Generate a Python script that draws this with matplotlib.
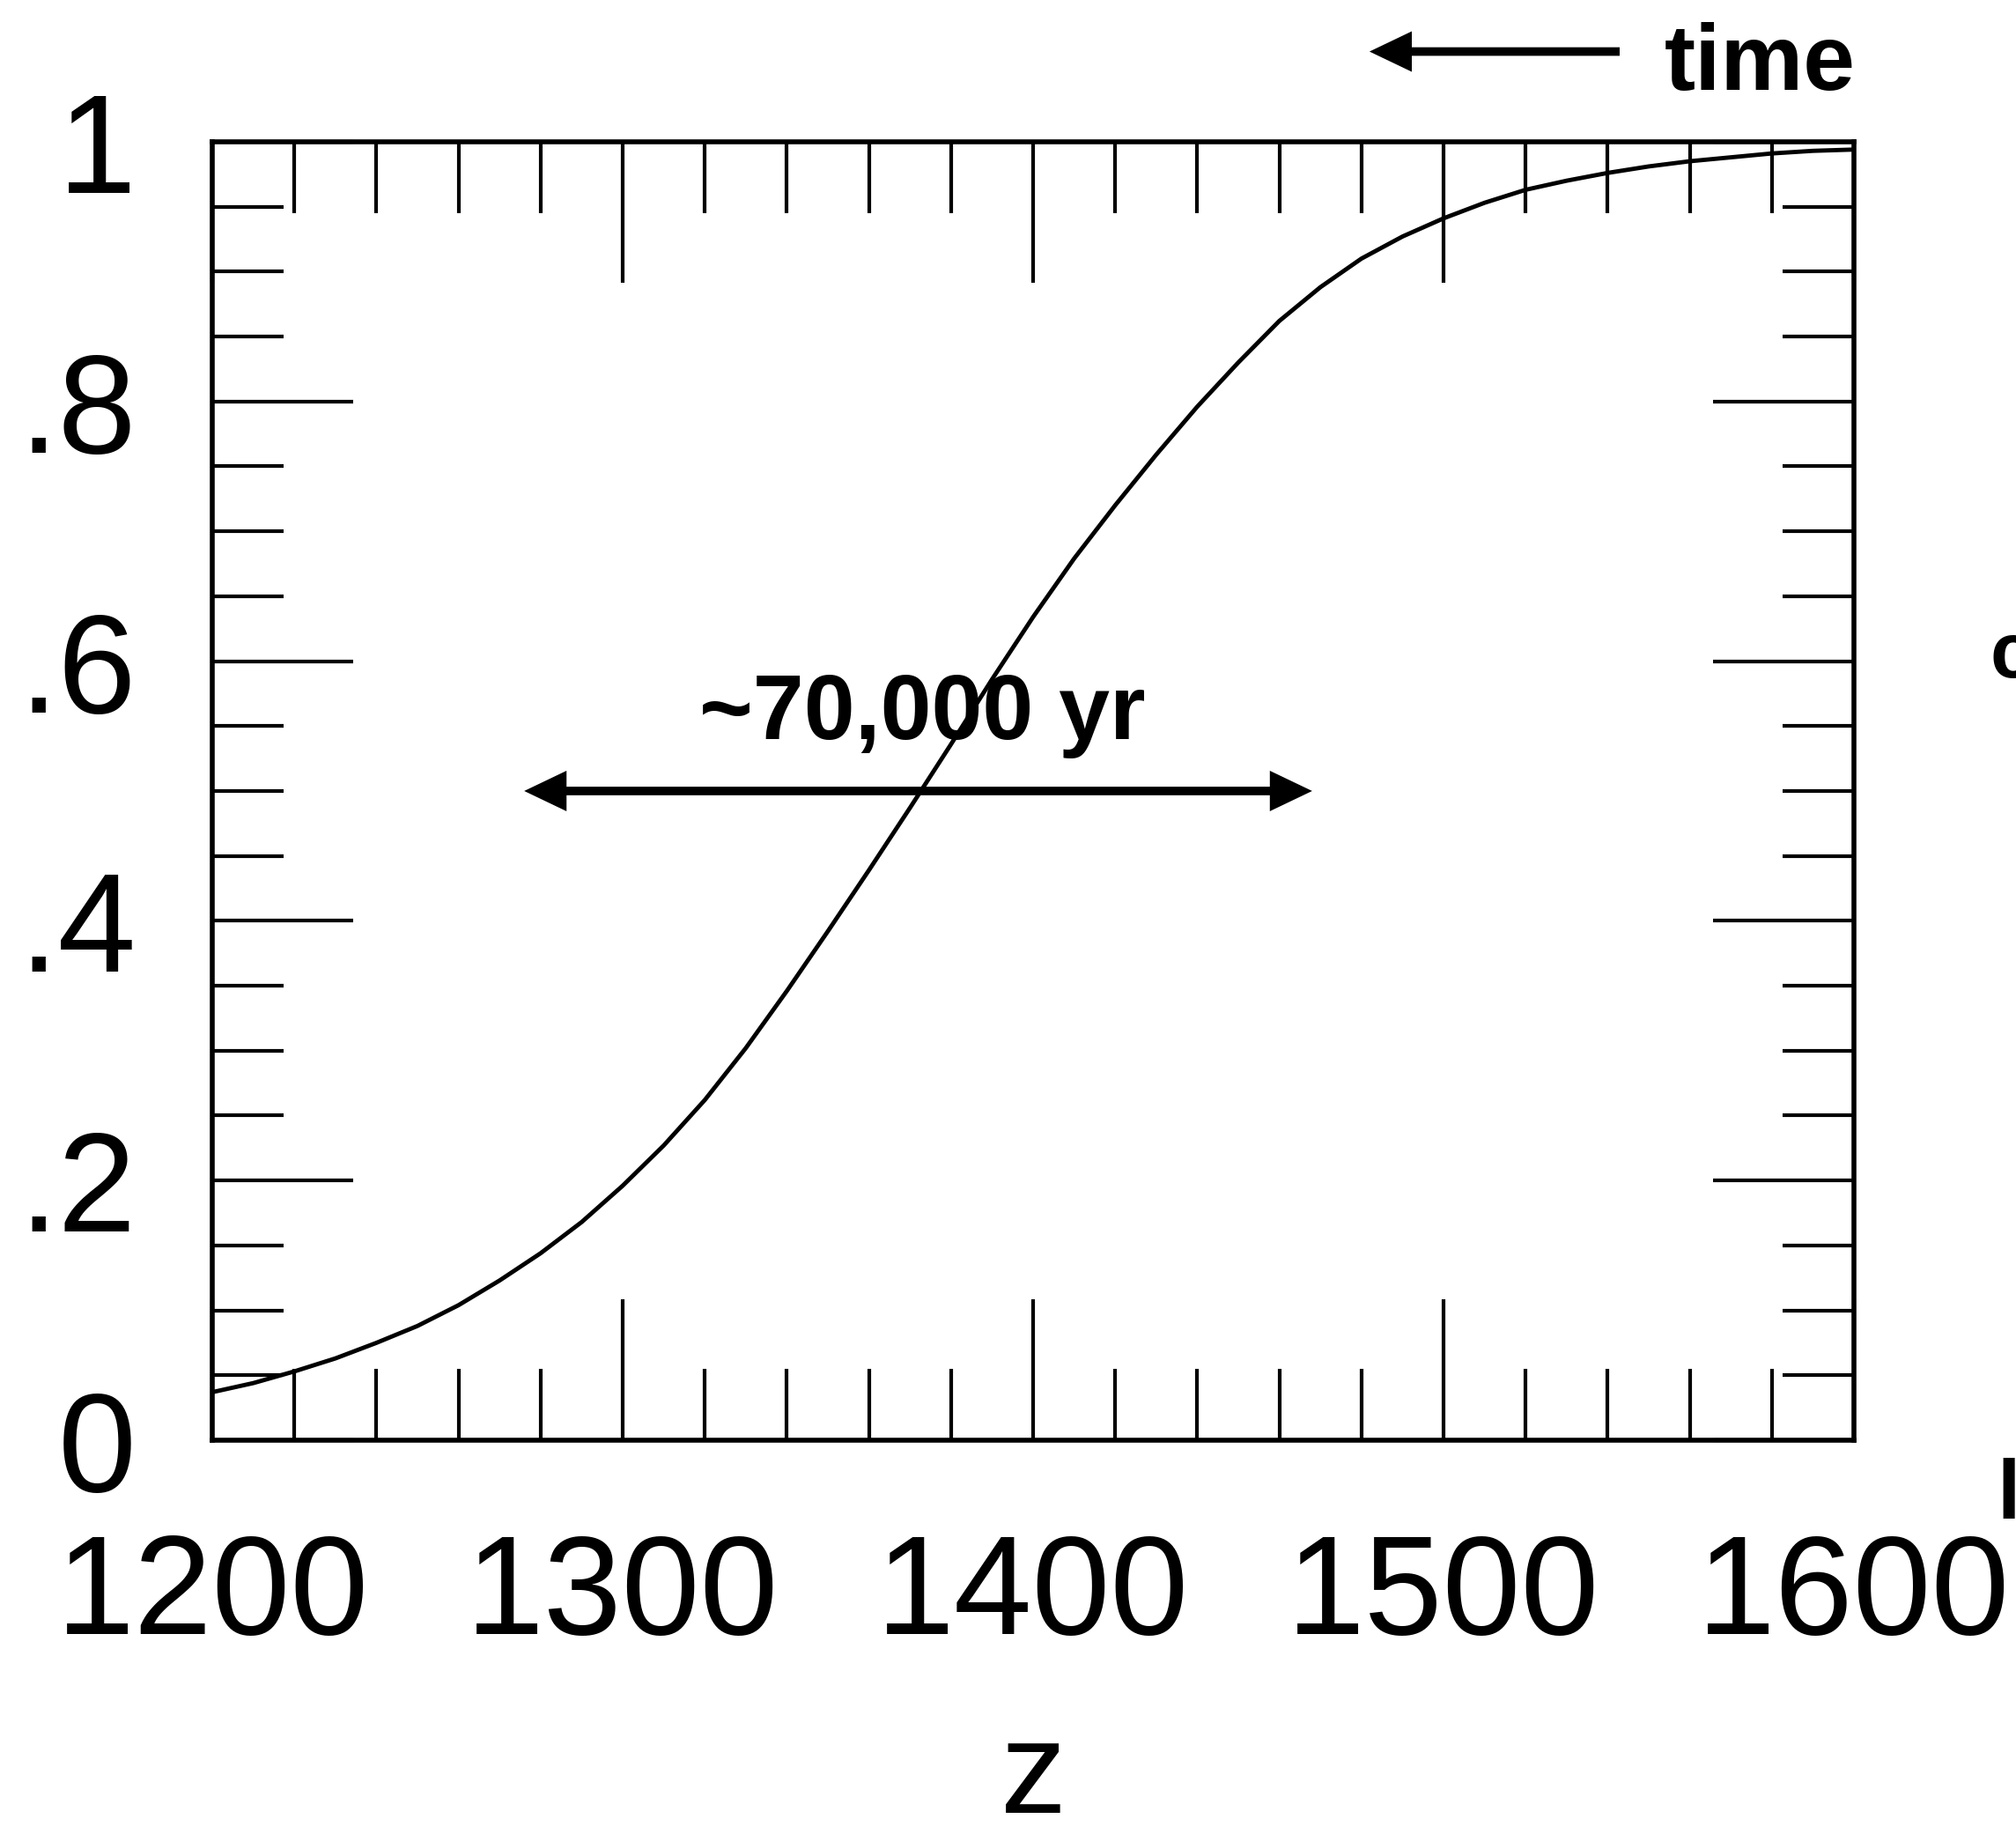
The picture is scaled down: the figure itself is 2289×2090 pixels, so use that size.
import matplotlib
matplotlib.use("Agg")
import matplotlib.pyplot as plt
from matplotlib.ticker import MultipleLocator

plt.rcParams['font.family'] = ['Liberation Sans', 'DejaVu Sans']

# values
z = [1200, 1210, 1220, 1230, 1240, 1250, 1260, 1270, 1280, 1290,
     1300, 1310, 1320, 1330, 1340, 1350, 1360, 1370, 1380, 1390,
     1400, 1410, 1420, 1430, 1440, 1450, 1460, 1470, 1480, 1490,
     1500, 1510, 1520, 1530, 1540, 1550, 1560, 1570, 1580, 1590, 1600]
frac = [0.037, 0.044, 0.053, 0.063, 0.075, 0.088, 0.104, 0.123, 0.144, 0.168,
        0.196, 0.227, 0.262, 0.302, 0.346, 0.392, 0.439, 0.487, 0.536, 0.586,
        0.634, 0.679, 0.720, 0.759, 0.796, 0.830, 0.862, 0.888, 0.910, 0.927,
        0.941, 0.953, 0.963, 0.970, 0.976, 0.981, 0.985, 0.988, 0.991, 0.993, 0.994]

xticks = [1200, 1300, 1400, 1500, 1600]
yticks = [0, 0.2, 0.4, 0.6, 0.8, 1.0]
ytick_labels = ['0', '.2', '.4', '.6', '.8', '1']

span_start, span_end, span_level = 1276, 1468, 0.5
span_label = '~70,000 yr'

fig = plt.figure(figsize=(22.89, 20.90), dpi=100)
ax = fig.add_axes([0.1053, 0.2177, 0.8143, 0.7053])

ax.plot(z, frac, color='black', lw=3.5)

ax.set_xlim(1200, 1600)
ax.set_ylim(0, 1)
ax.set_xticks(xticks)
ax.set_yticks(yticks)
ax.set_yticklabels(ytick_labels)
ax.xaxis.set_minor_locator(MultipleLocator(20))
ax.yaxis.set_minor_locator(MultipleLocator(0.05))
ax.tick_params(which='both', direction='in', top=True, right=True, width=3,
               labelsize=115)
ax.tick_params(which='major', length=115)
ax.tick_params(which='minor', length=58)
ax.tick_params(axis='x', pad=75)
ax.tick_params(axis='y', pad=62)
for s in ax.spines.values():
    s.set_linewidth(4)

ax.set_xlabel('z', fontsize=108)
ax.xaxis.label.set_verticalalignment('baseline')
ax.xaxis.set_label_coords(0.5, -0.287)

arrow = dict(mutation_scale=1, lw=7, color='black', shrinkA=0, shrinkB=0,
             joinstyle='miter', capstyle='butt')

# double arrow with the span label
ax.annotate('', xy=(span_start, span_level), xytext=(span_end, span_level),
            arrowprops=dict(arrowstyle='<|-|>,head_length=23,head_width=11', **arrow))
ax.text(1373, 0.54, span_label, ha='center', va='baseline', fontsize=75,
        weight='bold')

# time arrow above the plot
ax.annotate('', xy=(0.6793, 0.972), xytext=(0.8034, 0.972),
            xycoords='figure fraction', textcoords='figure fraction',
            annotation_clip=False,
            arrowprops=dict(arrowstyle='-|>,head_length=23,head_width=11', **arrow))
fig.text(0.8257, 0.951, 'time', fontsize=76, weight='bold', va='baseline')

# letters cut off at the right edge
fig.text(0.9873, 0.632, 'c', fontsize=64, weight='bold', va='baseline')
fig.text(0.9904, 0.175, 'l', fontsize=68, weight='bold', va='baseline')

fig.savefig('out.png', dpi=100)
